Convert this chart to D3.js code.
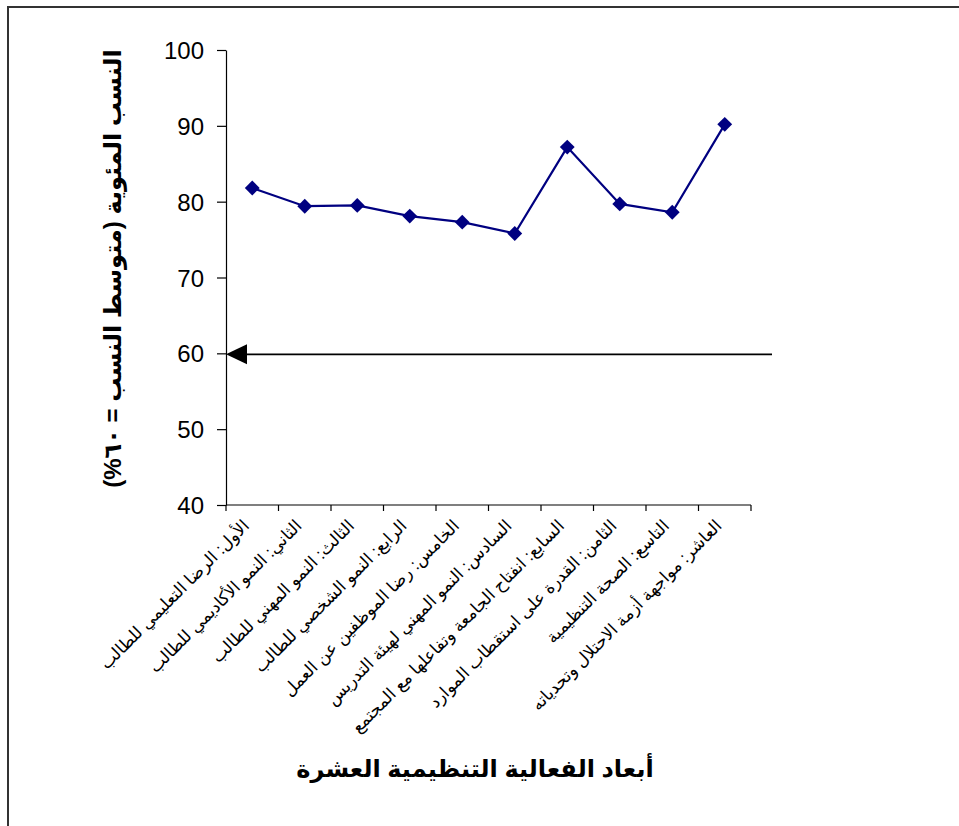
<!DOCTYPE html>
<html>
<head>
<meta charset="utf-8">
<script src="https://cdn.jsdelivr.net/npm/d3@7"></script>
<style>
    body { margin: 0; background: #fff; }
    .co-svg text { font-family: Arial, "Liberation Sans", "DejaVu Sans", sans-serif; fill: #000; }
</style>
</head>
<body>
<svg class="co-svg"></svg>
<script>
const categories = [
    'الأول: الرضا التعليمي للطالب',
    'الثاني: النمو الأكاديمي للطالب',
    'الثالث: النمو المهني للطالب',
    'الرابع: النمو الشخصي للطالب',
    'الخامس: رضا الموظفين عن العمل',
    'السادس: النمو المهني لهيئة التدريس',
    'السابع: انفتاح الجامعة وتفاعلها مع المجتمع',
    'الثامن: القدرة على استقطاب الموارد',
    'التاسع: الصحة التنظيمية',
    'العاشر: مواجهة أزمة الاحتلال وتحدياته'
]
const values = [81.8, 79.4, 79.5, 78.1, 77.3, 75.8, 87.2, 79.7, 78.6, 90.2]
const yTicks = [40, 50, 60, 70, 80, 90, 100]
const yDomain = [40, 100]
const meanLine = 60
const xTitle = 'أبعاد الفعالية التنظيمية العشرة'
const yTitle = 'النسب المئوية (متوسط النسب = ٦٠%)'

const draw = () => {

    const width = 959
    const height = 826

    const svg = d3.select('.co-svg')
        .attr('width', width)
        .attr('height', height)

    const padding = {
        top: 50,
        right: 208,
        bottom: 321,
        left: 226
    }

    // outer frame, runs off the right and bottom edges
    svg.append('rect')
        .attr('x', 8)
        .attr('y', 7)
        .attr('width', width + 20)
        .attr('height', height + 20)
        .attr('fill', 'none')
        .attr('stroke', '#333')
        .attr('stroke-width', 2)

    const xScale = d3.scaleBand()
        .domain(categories)
        .range([ padding.left, width - padding.right ])

    const yScale = d3.scaleLinear()
        .domain(yDomain)
        .range([ height - padding.bottom, padding.top ])

    const cx = d => xScale(d) + xScale.bandwidth()/2
    const base = yScale(yDomain[0])

    // y axis
    const yAxis = d3.axisLeft(yScale)
        .tickValues(yTicks)
        .tickSize(9)
        .tickSizeOuter(0)
        .tickPadding(13)

    const yG = svg.append('g')
        .attr('transform', `translate(${padding.left}, 0)`)
        .call(yAxis)

    yG.selectAll('text')
        .style('font-size', '24px')
        .attr('dy', '0.36em')
    yG.selectAll('line, path').attr('stroke', '#000').attr('stroke-width', 1.2)

    // x axis: line plus ticks at band edges
    const xG = svg.append('g')

    xG.append('line')
        .attr('x1', xScale.range()[0])
        .attr('x2', xScale.range()[1])
        .attr('y1', base)
        .attr('y2', base)
        .attr('stroke', '#000')
        .attr('stroke-width', 1.2)

    xG.selectAll('blah')
        .data(categories.map(c => xScale(c)).concat([ xScale.range()[1] ]))
        .enter()
        .append('line')
        .attr('x1', d => d)
        .attr('x2', d => d)
        .attr('y1', base)
        .attr('y2', base + 6)
        .attr('stroke', '#000')
        .attr('stroke-width', 1.2)

    xG.selectAll('blah')
        .data(categories)
        .enter()
        .append('text')
        .attr('transform', d => `translate(${cx(d) - 2}, ${base + 22}) rotate(-45)`)
        .attr('text-anchor', 'end')
        .style('font-size', '17px')
        .text(d => d)

    // mean reference arrow
    svg.append('line')
        .attr('x1', xScale.range()[1] + 21)
        .attr('x2', padding.left + 18)
        .attr('y1', yScale(meanLine) + 1)
        .attr('y2', yScale(meanLine) + 1)
        .attr('stroke', '#000')
        .attr('stroke-width', 1.6)

    svg.append('path')
        .attr('d', `M${padding.left},${yScale(meanLine) + 1} l21,-10 l0,20 z`)
        .attr('fill', '#000')

    // series line
    const line = d3.line()
        .x((d, i) => cx(categories[i]))
        .y(d => yScale(d))

    svg.append('path')
        .datum(values)
        .attr('d', line)
        .attr('fill', 'none')
        .attr('stroke', '#000080')
        .attr('stroke-width', 2.2)

    svg.selectAll('blah')
        .data(values)
        .enter()
        .append('path')
        .attr('d', d3.symbol(d3.symbolSquare, 110))
        .attr('transform', (d, i) => `translate(${cx(categories[i])}, ${yScale(d)}) rotate(45)`)
        .attr('fill', '#000080')

    // titles
    svg.append('text')
        .attr('transform', `translate(113, ${(padding.top + base)/2 - 9}) rotate(-90)`)
        .attr('text-anchor', 'middle')
        .attr('dy', '0.35em')
        .style('font-size', '24px')
        .style('font-weight', 'bold')
        .text(yTitle)

    svg.append('text')
        .attr('x', 475)
        .attr('y', 777)
        .attr('text-anchor', 'middle')
        .style('font-size', '24px')
        .style('font-weight', 'bold')
        .text(xTitle)
}

draw()
</script>
</body>
</html>
